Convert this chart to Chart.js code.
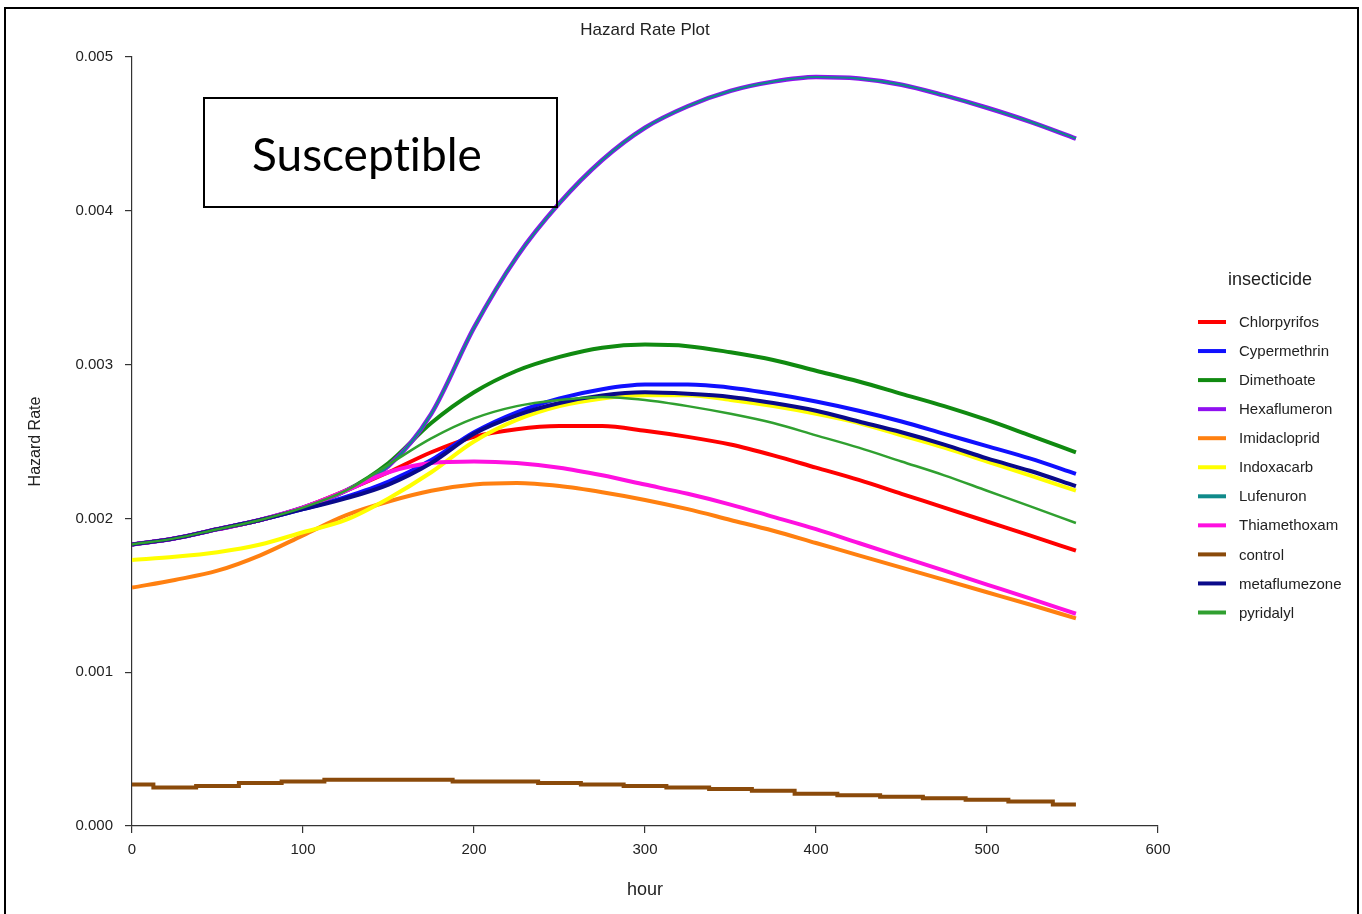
<!DOCTYPE html>
<html>
<head>
<meta charset="utf-8">
<title>Hazard Rate Plot</title>
<script src="https://cdn.jsdelivr.net/npm/chart.js@4.4.1/dist/chart.umd.min.js"></script>
<style>
  html, body { margin: 0; padding: 0; background: #fff; }
  #wrap { position: relative; width: 1362px; height: 914px; overflow: hidden; }
  #chart { position: absolute; left: 0; top: 0; }
  #frame {
    position: absolute; left: 4px; top: 7px; width: 1355px; height: 940px;
    border: 2px solid #000; box-sizing: border-box; pointer-events: none;
  }
  #note {
    position: absolute; left: 203px; top: 97px; width: 355px; height: 111px;
    border: 2px solid #000; box-sizing: border-box;
    font-family: Lato, "Open Sans", sans-serif; font-size: 46px; color: #000;
    font-variant-ligatures: none;
    line-height: 109px; padding-left: 47px;
  }
</style>
</head>
<body>
<div id="wrap">
  <canvas id="chart" width="1362" height="914"></canvas>
  <div id="frame"></div>
  <div id="note">Susceptible</div>
</div>
<script>
const hours = [0, 25, 50, 75, 100, 125, 150, 175, 200, 225, 250, 275, 300, 325, 350, 375, 400, 425, 450, 475, 500, 525, 552];

// hazard rate values, in units of 0.001
const chlorpyrifos  = [1.83, 1.87, 1.93, 1.99, 2.07, 2.18, 2.30, 2.43, 2.53, 2.58, 2.60, 2.60, 2.57, 2.53, 2.48, 2.41, 2.33, 2.25, 2.16, 2.07, 1.98, 1.89, 1.79];
const cypermethrin  = [1.83, 1.87, 1.93, 1.99, 2.06, 2.14, 2.24, 2.38, 2.56, 2.69, 2.78, 2.84, 2.87, 2.87, 2.85, 2.81, 2.76, 2.70, 2.63, 2.55, 2.47, 2.39, 2.29];
const dimethoate    = [1.83, 1.87, 1.93, 1.99, 2.07, 2.18, 2.36, 2.62, 2.82, 2.96, 3.05, 3.11, 3.13, 3.12, 3.08, 3.03, 2.96, 2.89, 2.81, 2.73, 2.64, 2.54, 2.43];
const hexaflumeron  = [1.83, 1.87, 1.93, 1.99, 2.07, 2.18, 2.34, 2.68, 3.24, 3.70, 4.05, 4.33, 4.54, 4.68, 4.78, 4.84, 4.87, 4.86, 4.82, 4.75, 4.67, 4.58, 4.47];
const imidacloprid  = [1.55, 1.60, 1.66, 1.76, 1.89, 2.02, 2.11, 2.18, 2.22, 2.23, 2.21, 2.17, 2.12, 2.06, 1.99, 1.92, 1.84, 1.76, 1.68, 1.60, 1.52, 1.44, 1.35];
const indoxacarb    = [1.73, 1.75, 1.78, 1.83, 1.91, 1.99, 2.13, 2.30, 2.50, 2.64, 2.73, 2.78, 2.80, 2.80, 2.77, 2.73, 2.68, 2.62, 2.54, 2.46, 2.37, 2.28, 2.18];
const lufenuron     = [1.83, 1.87, 1.93, 1.99, 2.07, 2.18, 2.34, 2.68, 3.24, 3.70, 4.05, 4.33, 4.54, 4.68, 4.78, 4.84, 4.87, 4.86, 4.82, 4.75, 4.67, 4.58, 4.47];
const thiamethoxam  = [1.83, 1.87, 1.93, 1.99, 2.07, 2.18, 2.30, 2.36, 2.37, 2.36, 2.33, 2.28, 2.22, 2.16, 2.09, 2.01, 1.93, 1.84, 1.75, 1.66, 1.57, 1.48, 1.38];
const control       = [0.27, 0.25, 0.26, 0.28, 0.29, 0.30, 0.30, 0.30, 0.29, 0.29, 0.28, 0.27, 0.26, 0.25, 0.24, 0.23, 0.21, 0.20, 0.19, 0.18, 0.17, 0.16, 0.14];
const metaflumezone = [1.83, 1.87, 1.93, 1.99, 2.06, 2.13, 2.22, 2.36, 2.55, 2.67, 2.75, 2.80, 2.82, 2.81, 2.79, 2.75, 2.70, 2.63, 2.56, 2.48, 2.39, 2.31, 2.21];
const pyridalyl     = [1.83, 1.87, 1.93, 1.99, 2.07, 2.18, 2.35, 2.52, 2.65, 2.73, 2.77, 2.79, 2.77, 2.73, 2.68, 2.62, 2.54, 2.46, 2.37, 2.28, 2.18, 2.08, 1.97];

const seriesNames = ["Chlorpyrifos", "Cypermethrin", "Dimethoate", "Hexaflumeron", "Imidacloprid",
  "Indoxacarb", "Lufenuron", "Thiamethoxam", "control", "metaflumezone", "pyridalyl"];
const seriesValues = [chlorpyrifos, cypermethrin, dimethoate, hexaflumeron, imidacloprid,
  indoxacarb, lufenuron, thiamethoxam, control, metaflumezone, pyridalyl];

const xTicks = [0, 100, 200, 300, 400, 500, 600];
const yTicks = [0, 0.001, 0.002, 0.003, 0.004, 0.005];

// styles
const seriesColors = ["#ff0000", "#1010ff", "#108a10", "#9010f0", "#ff8010",
  "#ffff00", "#108a8a", "#ff10e0", "#8a4a0a", "#0a0a8a", "#30a030"];
const lineWidths = [4, 4, 4, 4.5, 4, 4, 2.2, 4, 4, 4, 2.5];

const FONT = "'Liberation Sans', Arial, sans-serif";

const datasets = seriesNames.map((name, i) => ({
  label: name,
  data: hours.map((h, j) => ({ x: h, y: seriesValues[i][j] / 1000 })),
  borderColor: seriesColors[i],
  backgroundColor: seriesColors[i],
  borderWidth: lineWidths[i],
  pointRadius: 0,
  fill: false,
  cubicInterpolationMode: "monotone",
  stepped: name === "control" ? "middle" : false,
  order: seriesNames.length - i   // later series are drawn on top
}));

// legend drawn at the right, with its title
const sideLegend = {
  id: "sideLegend",
  afterDraw(chart) {
    const ctx = chart.ctx;
    ctx.save();
    ctx.fillStyle = "#222";
    ctx.textBaseline = "middle";
    ctx.textAlign = "center";
    ctx.font = "18px " + FONT;
    ctx.fillText("insecticide", 1270, 280);
    ctx.textAlign = "left";
    ctx.font = "15px " + FONT;
    chart.data.datasets.forEach((ds, i) => {
      const y = 322 + i * 29.05;
      ctx.strokeStyle = ds.borderColor;
      ctx.lineWidth = 4;
      ctx.beginPath();
      ctx.moveTo(1198, y);
      ctx.lineTo(1226, y);
      ctx.stroke();
      ctx.fillStyle = "#222";
      ctx.fillText(ds.label, 1239, y + 1);
    });
    ctx.restore();
  }
};

new Chart(document.getElementById("chart"), {
  type: "line",
  data: { datasets: datasets },
  options: {
    responsive: false,
    animation: false,
    layout: { padding: { left: 0, right: 204, top: 0, bottom: 0 } },
    plugins: {
      legend: { display: false },
      tooltip: { enabled: false },
      title: {
        display: true,
        text: "Hazard Rate Plot",
        fullSize: false,
        color: "#222",
        font: { family: FONT, size: 17, weight: "normal" },
        padding: { top: 20, bottom: 16.6 }
      }
    },
    scales: {
      x: {
        type: "linear",
        min: 0,
        max: 600,
        afterBuildTicks(scale) { scale.ticks = xTicks.map(v => ({ value: v })); },
        afterFit(scale) { scale.height = 88; },
        ticks: { color: "#222", font: { family: FONT, size: 15 }, padding: 8 },
        grid: { drawOnChartArea: false, drawTicks: true, tickLength: 7, color: "#333", lineWidth: 1.2 },
        border: { color: "#333", width: 1.2 },
        title: { display: true, text: "hour", color: "#222", font: { family: FONT, size: 18 }, padding: { bottom: 13 } }
      },
      y: {
        type: "linear",
        min: 0,
        max: 0.005,
        afterBuildTicks(scale) { scale.ticks = yTicks.map(v => ({ value: v })); },
        afterFit(scale) { scale.width = 132; },
        ticks: { color: "#222", font: { family: FONT, size: 15 }, padding: 12, callback: v => v.toFixed(3) },
        grid: { drawOnChartArea: false, drawTicks: true, tickLength: 7, color: "#333", lineWidth: 1.2 },
        border: { color: "#333", width: 1.2 },
        title: { display: true, text: "Hazard Rate", color: "#222", font: { family: FONT, size: 16 }, padding: { top: 26 } }
      }
    }
  },
  plugins: [sideLegend]
});
</script>
</body>
</html>
